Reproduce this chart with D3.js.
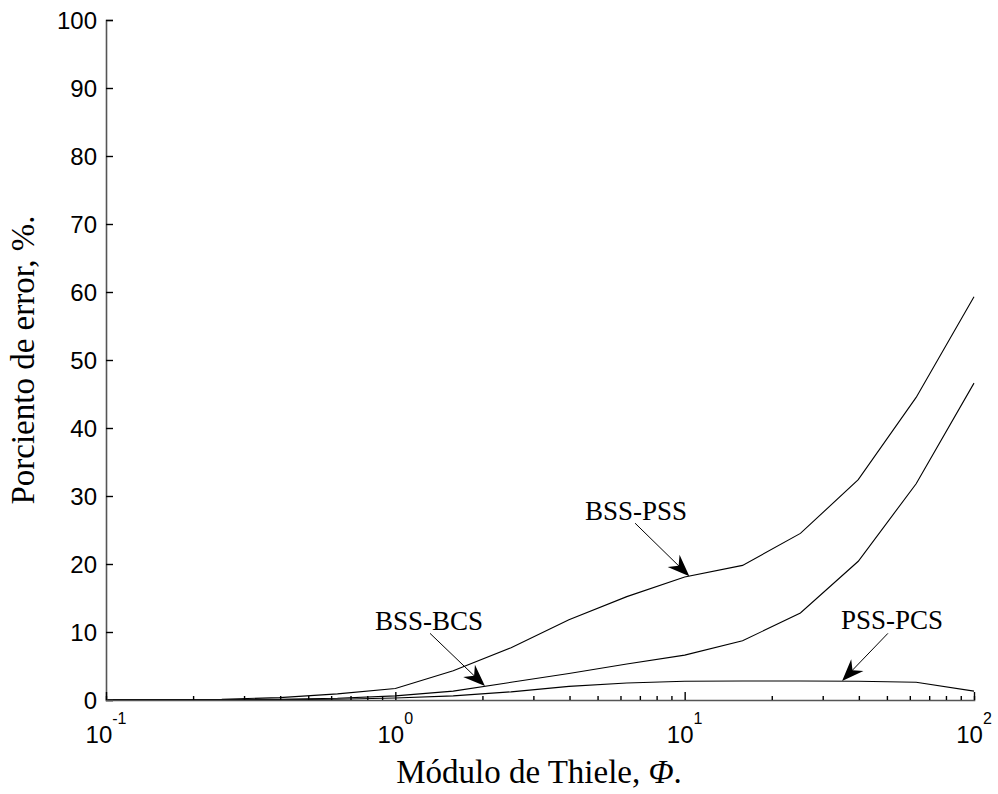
<!DOCTYPE html>
<html>
<head>
<meta charset="utf-8">
<script src="https://cdn.jsdelivr.net/npm/d3@7"></script>
<style>
  body { margin: 0; background: #fff; }
  svg { display: block; }
</style>
</head>
<body>
<script>
// Thiele modulus (log-spaced, 5 per decade)
var phi = [0.1, 0.1585, 0.2512, 0.3981, 0.631, 1, 1.585, 2.512, 3.981, 6.31, 10, 15.85, 25.12, 39.81, 63.1, 100];

// percent error for each comparison
var bssPss = [0.05, 0.05, 0.1, 0.35, 0.9, 1.7, 4.3, 7.7, 11.8, 15.2, 18.1, 19.8, 24.5, 32.4, 44.5, 59.3];
var bssBcs = [0.02, 0.02, 0.05, 0.1, 0.25, 0.6, 1.3, 2.6, 3.9, 5.3, 6.6, 8.7, 12.8, 20.4, 31.8, 46.6];
var pssPcs = [0.01, 0.01, 0.02, 0.05, 0.1, 0.3, 0.6, 1.2, 2.0, 2.5, 2.75, 2.8, 2.8, 2.75, 2.6, 1.3];

var yTicks = [0, 10, 20, 30, 40, 50, 60, 70, 80, 90, 100];
var xMajor = [0.1, 1, 10, 100];
var xExp = ["-1", "0", "1", "2"];

// annotations: label, text position, arrow tail, arrow tip (data units)
var notes = [
  { label: "BSS-PSS", tx: 6.79, ty: 26.5, x0: 6.74, y0: 26.0, x1: 10.38, y1: 18.2 },
  { label: "BSS-BCS", tx: 1.307, ty: 10.3, x0: 1.318, y0: 9.8, x1: 2.04, y1: 2.05 },
  { label: "PSS-PCS", tx: 52.1, ty: 10.4, x0: 50.4, y0: 9.8, x1: 35.0, y1: 2.8 }
];

var W = 998, H = 794;
var margin = { left: 106, right: 24, top: 20, bottom: 94 };

var svg = d3.select("body").append("svg")
  .attr("width", W)
  .attr("height", H);

var x = d3.scaleLog()
  .domain([0.1, 100])
  .range([margin.left, W - margin.right]);

var y = d3.scaleLinear()
  .domain([0, 100])
  .range([H - margin.bottom, margin.top]);

var y0 = y(0);

// curves
var line = d3.line()
  .x(function (d) { return x(d[0]); })
  .y(function (d) { return y(d[1]); });

[bssPss, bssBcs, pssPcs].forEach(function (s) {
  svg.append("path")
    .datum(phi.map(function (p, i) { return [p, s[i]]; }))
    .attr("d", line)
    .attr("fill", "none")
    .attr("stroke", "#000")
    .attr("stroke-width", 1.1);
});

// y axis (ticks point inward)
var yAxis = svg.append("g")
  .attr("transform", "translate(" + margin.left + ",0)")
  .call(d3.axisRight(y).tickValues(yTicks).tickSize(7).tickFormat(""));
yAxis.select(".domain").attr("stroke", "#555").attr("stroke-width", 1.6);
yAxis.selectAll(".tick line").attr("stroke", "#000").attr("stroke-width", 1.4);

svg.append("g").selectAll("text")
  .data(yTicks)
  .enter()
  .append("text")
    .attr("x", margin.left - 9)
    .attr("y", function (d) { return y(d) + 8.5; })
    .attr("text-anchor", "end")
    .style("font-family", "'Liberation Sans', Arial, sans-serif")
    .style("font-size", "24px")
    .text(function (d) { return d; });

// x axis: major and minor ticks pointing up
var minor = [];
for (var e = -1; e < 2; e++) {
  for (var m = 2; m <= 9; m++) minor.push(m * Math.pow(10, e));
}

var xAxis = svg.append("g")
  .attr("transform", "translate(0," + y0 + ")")
  .call(d3.axisTop(x).tickValues(minor).tickSize(4).tickFormat(""));
xAxis.select(".domain").attr("stroke", "#555").attr("stroke-width", 1.6);
xAxis.selectAll(".tick line").attr("stroke", "#000").attr("stroke-width", 1.4);

svg.append("g")
  .attr("transform", "translate(0," + y0 + ")")
  .call(d3.axisTop(x).tickValues(xMajor).tickSize(8).tickFormat(""))
  .call(function (g) { g.select(".domain").remove(); })
  .selectAll(".tick line").attr("stroke", "#000").attr("stroke-width", 1.4);

var xl = svg.append("g").selectAll("text")
  .data(xMajor)
  .enter()
  .append("text")
    .attr("x", function (d) { return x(d); })
    .attr("y", y0 + 43)
    .attr("text-anchor", "middle")
    .style("font-family", "'Liberation Sans', Arial, sans-serif")
    .style("font-size", "24px");
xl.append("tspan").text("10");
xl.append("tspan")
  .attr("dy", -19)
  .style("font-size", "16px")
  .text(function (d, i) { return xExp[i]; });

// axis titles
var xt = svg.append("text")
  .attr("x", 539)
  .attr("y", 783)
  .attr("text-anchor", "middle")
  .style("font-family", "'Liberation Serif', 'Times New Roman', serif")
  .style("font-size", "33px");
xt.append("tspan").text("Módulo de Thiele, ");
xt.append("tspan").style("font-style", "italic").text("Φ");
xt.append("tspan").text(".");

svg.append("text")
  .attr("transform", "translate(34," + ((margin.top + y0) / 2) + ") rotate(-90)")
  .attr("text-anchor", "middle")
  .style("font-family", "'Liberation Serif', 'Times New Roman', serif")
  .style("font-size", "33px")
  .text("Porciento de error, %.");

// annotations with filled arrowheads
function arrowHead(px, py, ang) {
  var L = 22, Wd = 8.5, N = 15;
  var c = Math.cos(ang), s = Math.sin(ang);
  function p(a, b) { return [px - a * c + b * s, py - a * s - b * c]; }
  return "M" + [[px, py], p(L, Wd), p(N, 0), p(L, -Wd)].map(function (q) { return q.join(","); }).join("L") + "Z";
}

notes.forEach(function (n) {
  var ax = x(n.x0), ay = y(n.y0), bx = x(n.x1), by = y(n.y1);
  var ang = Math.atan2(by - ay, bx - ax);
  svg.append("line")
    .attr("x1", ax).attr("y1", ay)
    .attr("x2", bx - 14 * Math.cos(ang)).attr("y2", by - 14 * Math.sin(ang))
    .attr("stroke", "#000")
    .attr("stroke-width", 1);
  svg.append("path")
    .attr("d", arrowHead(bx, by, ang))
    .attr("fill", "#000");
  svg.append("text")
    .attr("x", x(n.tx))
    .attr("y", y(n.ty))
    .attr("text-anchor", "middle")
    .style("font-family", "'Liberation Serif', 'Times New Roman', serif")
    .style("font-size", "27px")
    .text(n.label);
});
</script>
</body>
</html>
